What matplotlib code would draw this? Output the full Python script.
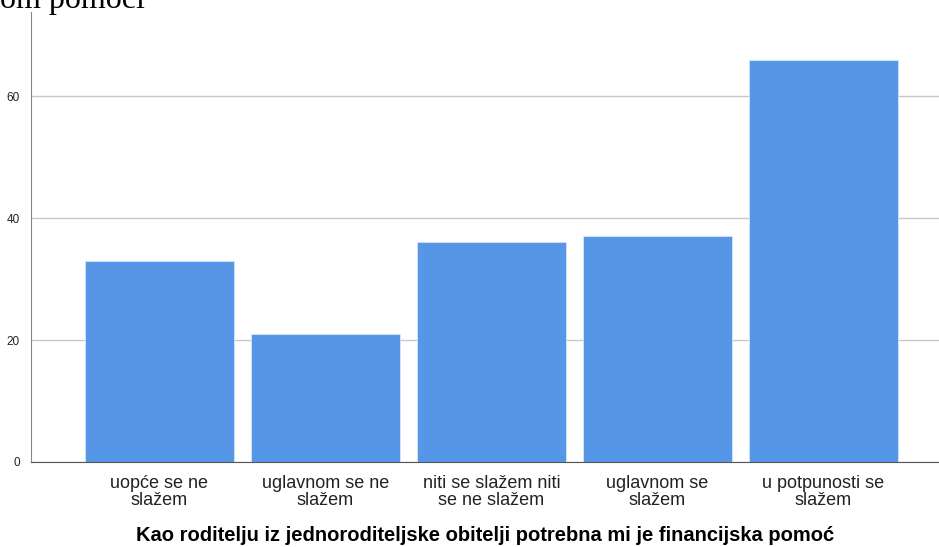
import matplotlib.pyplot as plt
import numpy as np

# data to plot
categories = ['uopće se ne\nslažem', 'uglavnom se ne\nslažem', 'niti se slažem niti\nse ne slažem',
              'uglavnom se\nslažem', 'u potpunosti se\nslažem']
counts = [33, 21, 36, 37, 66]
yticks = [0, 20, 40, 60]
xlabel = 'Kao roditelju iz jednoroditeljske obitelji potrebna mi je financijska pomoć'
title_fragment = 'om pomoći'

plt.rcParams['font.family'] = ['Liberation Sans', 'DejaVu Sans']

fig = plt.figure(figsize=(9.39, 5.47), dpi=100)
ax = fig.add_axes([31 / 939, 85 / 547, 908 / 939, 450 / 547])

index = np.arange(len(categories))
ax.bar(index, counts, 0.898, color='#5596e6', edgecolor='#d8e6f8', linewidth=0.6, zorder=3)

ax.set_xlim(-0.774, 4.696)
ax.set_ylim(0, 73.8)
ax.set_yticks(yticks)
ax.set_yticklabels([str(v) for v in yticks], fontsize=8.5, color='#222222')
ax.set_xticks(index)
ax.set_xticklabels(categories, fontsize=13, color='#222222', linespacing=1.05)
ax.tick_params(axis='both', length=0)
ax.tick_params(axis='y', pad=8)
ax.tick_params(axis='x', pad=9)
ax.yaxis.grid(True, color='#c8c8c8', linewidth=1, zorder=0)

for s in ['top', 'right']:
    ax.spines[s].set_visible(False)
ax.spines['left'].set_color('#888888')
ax.spines['bottom'].set_color('#555555')

ax.set_xlabel(xlabel, fontsize=14.5, fontweight='bold', labelpad=12)

# cut-off title at the top edge
fig.text(0.0, 1 - 8 / 547, title_fragment, family=['Liberation Serif', 'DejaVu Serif'],
         fontsize=23, va='baseline', ha='left', color='black')

fig.savefig('out.png', dpi=100)
